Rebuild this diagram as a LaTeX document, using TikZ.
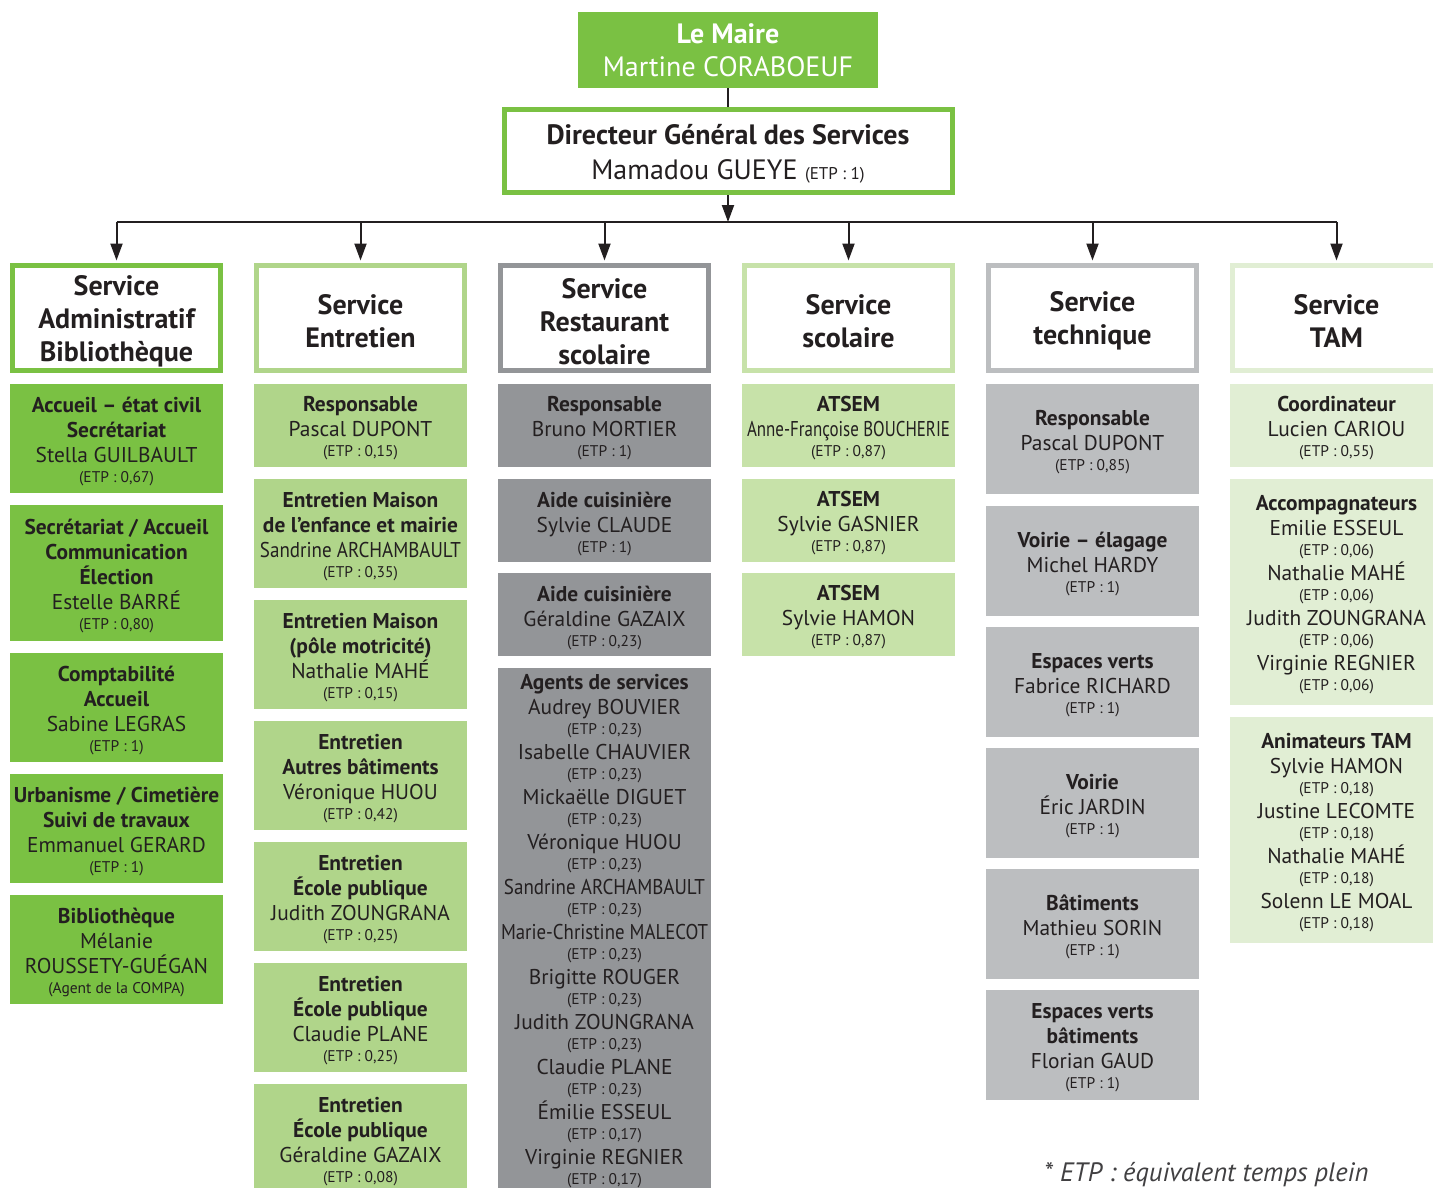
\documentclass[tikz,border=0pt]{standalone}
\usepackage{fontspec}
\setmainfont{PT Sans}
\usepackage{graphicx}
\usetikzlibrary{arrows.meta}
\definecolor{gA}{HTML}{7AC143}
\definecolor{gB}{HTML}{B0D58A}
\definecolor{gC}{HTML}{939598}
\definecolor{gD}{HTML}{C7E2A9}
\definecolor{gE}{HTML}{BCBEC0}
\definecolor{gF}{HTML}{E1EED4}
\definecolor{txt}{HTML}{231F20}
\definecolor{notec}{HTML}{414042}
\newcommand{\hb}[1]{{\bfseries #1}}
\newcommand{\etp}[1]{{\fontsize{15.5}{18}\selectfont(ETP : #1)}}
\newcommand{\sq}[2]{\resizebox{#1pt}{\height}{#2}}
% #1 text shift, #2 colour, #3 name, #4 x, #5 y, #6 height, #7 text
\newcommand{\cell}[7][3]{%
  \node[subbox=#2,minimum height=#6] (#3) at (#4,#5) {};
  \node[subtext] (#3t) at ([yshift=-#1pt]#3.center) {#7};}
\newcommand{\head}[5]{%
  \node[hdr=#1] (#2) at (#3,318) {};
  \node[hdrtext] (#2t) at ([yshift=-#4pt]#2.center) {#5};}
\begin{document}
\begin{tikzpicture}[x=1pt,y=-1pt,
  conn/.style={draw=txt,line width=2pt},
  arr/.style={conn,-{Triangle[length=17pt,width=12pt]},shorten >=2.5pt},
  maire/.style={fill=gA,text=white,minimum width=300,minimum height=76,inner sep=0,align=center,font=\fontsize{28}{33}\selectfont},
  dgs/.style={draw=gA,line width=5pt,fill=white,minimum width=448,minimum height=83,inner sep=0},
  dgstext/.style={text=txt,inner sep=0,align=center,font=\fontsize{28}{35}\selectfont},
  hdr/.style={draw=#1,line width=5pt,fill=white,minimum width=208,minimum height=105,inner sep=0},
  hdrtext/.style={text=txt,inner sep=0,align=center,font=\bfseries\fontsize{28}{33}\selectfont},
  subbox/.style={fill=#1,minimum width=213,inner sep=0},
  subtext/.style={text=txt,inner sep=0,align=center,font=\fontsize{21.4}{25}\selectfont}
]
\clip (0,0) rectangle (1433,1187);
\fill[white] (0,0) rectangle (1433,1187);

% top
\node[maire] (maire) at (728,50) {\hb{Le Maire}\\Martine CORABOEUF};
\node[dgs] (dgs) at (728,151) {};
\node[dgstext] (dgst) at ([yshift=-3pt]dgs.center) {\hb{Directeur Général des Services}\\Mamadou GUEYE {\fontsize{17}{18}\selectfont(ETP : 1)}};
\draw[conn] (maire) -- (dgs);

\coordinate (busL) at (116.5,222);
\coordinate (busR) at (1336.5,222);
\coordinate (busM) at (728,222);
\draw[conn] (busL) -- (busR);
\draw[conn,-{Triangle[length=17pt,width=12pt]}] (dgs.south) -- (busM);

% headers
\head{gA}{h1}{116.5}{3.5}{Service\\Administratif\\Bibliothèque}
\head{gB}{h2}{360.5}{3}{Service\\Entretien}
\head{gC}{h3}{604.5}{3.5}{Service\\Restaurant\\scolaire}
\head{gD}{h4}{848.5}{3}{Service\\scolaire}
\head{gE}{h5}{1092.5}{3}{Service\\technique}
\head{gF}{h6}{1336.5}{3}{Service\\TAM}
\foreach \h in {h1,h2,h3,h4,h5,h6}{\draw[arr] (\h |- busL) -- (\h.north);}

% column 1
\cell{gA}{a1}{116.5}{438.5}{109}{\hb{Accueil – état civil}\\\hb{Secrétariat}\\Stella GUILBAULT\\[-5pt]\etp{0,67}}
\cell{gA}{a2}{116.5}{573}{136}{\hb{Secrétariat / Accueil}\\\hb{Communication}\\\hb{Élection}\\Estelle BARRÉ\\[-5pt]\etp{0,80}}
\cell{gA}{a3}{116.5}{707.5}{109}{\hb{Comptabilité}\\\hb{Accueil}\\Sabine LEGRAS\\[-5pt]\etp{1}}
\cell{gA}{a4}{116.5}{828.5}{109}{\hb{Urbanisme / Cimetière}\\\hb{Suivi de travaux}\\Emmanuel GERARD\\[-5pt]\etp{1}}
\cell{gA}{a5}{116.5}{949.5}{109}{\hb{Bibliothèque}\\Mélanie\\ROUSSETY-GUÉGAN\\[-5pt]{\fontsize{15.5}{18}\selectfont(Agent de la COMPA)}}

% column 2
\cell{gB}{b1}{360.5}{425.5}{83}{\hb{Responsable}\\Pascal DUPONT\\[-5pt]\etp{0,15}}
\cell{gB}{b2}{360.5}{533.5}{109}{\hb{Entretien Maison}\\\hb{de l’enfance et mairie}\\\sq{201}{Sandrine ARCHAMBAULT}\\[-5pt]\etp{0,35}}
\cell{gB}{b3}{360.5}{654.5}{109}{\hb{Entretien Maison}\\\hb{(pôle motricité)}\\Nathalie MAHÉ\\[-5pt]\etp{0,15}}
\cell{gB}{b4}{360.5}{775.5}{109}{\hb{Entretien}\\\hb{Autres bâtiments}\\Véronique HUOU\\[-5pt]\etp{0,42}}
\cell{gB}{b5}{360.5}{896.5}{109}{\hb{Entretien}\\\hb{École publique}\\Judith ZOUNGRANA\\[-5pt]\etp{0,25}}
\cell{gB}{b6}{360.5}{1017.5}{109}{\hb{Entretien}\\\hb{École publique}\\Claudie PLANE\\[-5pt]\etp{0,25}}
\cell{gB}{b7}{360.5}{1138.5}{109}{\hb{Entretien}\\\hb{École publique}\\Géraldine GAZAIX\\[-5pt]\etp{0,08}}

% column 3
\cell{gC}{c1}{604.5}{425.5}{83}{\hb{Responsable}\\Bruno MORTIER\\[-5pt]\etp{1}}
\cell{gC}{c2}{604.5}{520.5}{83}{\hb{Aide cuisinière}\\Sylvie CLAUDE\\[-5pt]\etp{1}}
\cell{gC}{c3}{604.5}{614.5}{83}{\hb{Aide cuisinière}\\Géraldine GAZAIX\\[-5pt]\etp{0,23}}
\cell[1]{gC}{c4}{604.5}{930}{524}{\hb{Agents de services}\\
Audrey BOUVIER\\[-5pt]\etp{0,23}\\
Isabelle CHAUVIER\\[-5pt]\etp{0,23}\\
Mickaëlle DIGUET\\[-5pt]\etp{0,23}\\
Véronique HUOU\\[-5pt]\etp{0,23}\\
\sq{201}{Sandrine ARCHAMBAULT}\\[-5pt]\etp{0,23}\\
\sq{207}{Marie-Christine MALECOT}\\[-5pt]\etp{0,23}\\
Brigitte ROUGER\\[-5pt]\etp{0,23}\\
Judith ZOUNGRANA\\[-5pt]\etp{0,23}\\
Claudie PLANE\\[-5pt]\etp{0,23}\\
Émilie ESSEUL\\[-5pt]\etp{0,17}\\
Virginie REGNIER\\[-5pt]\etp{0,17}}

% column 4
\cell{gD}{d1}{848.5}{425.5}{83}{\hb{ATSEM}\\\sq{203}{Anne-Françoise BOUCHERIE}\\[-5pt]\etp{0,87}}
\cell{gD}{d2}{848.5}{520.5}{83}{\hb{ATSEM}\\Sylvie GASNIER\\[-5pt]\etp{0,87}}
\cell{gD}{d3}{848.5}{614.5}{83}{\hb{ATSEM}\\Sylvie HAMON\\[-5pt]\etp{0,87}}

% column 5
\cell{gE}{e1}{1092.5}{439}{110}{\hb{Responsable}\\Pascal DUPONT\\[-5pt]\etp{0,85}}
\cell{gE}{e2}{1092.5}{561}{110}{\hb{Voirie – élagage}\\Michel HARDY\\[-5pt]\etp{1}}
\cell{gE}{e3}{1092.5}{682}{110}{\hb{Espaces verts}\\Fabrice RICHARD\\[-5pt]\etp{1}}
\cell{gE}{e4}{1092.5}{803}{110}{\hb{Voirie}\\Éric JARDIN\\[-5pt]\etp{1}}
\cell{gE}{e5}{1092.5}{924}{110}{\hb{Bâtiments}\\Mathieu SORIN\\[-5pt]\etp{1}}
\cell{gE}{e6}{1092.5}{1045}{110}{\hb{Espaces verts}\\\hb{bâtiments}\\Florian GAUD\\[-5pt]\etp{1}}

% column 6
\cell{gF}{f1}{1336.5}{425.5}{83}{\hb{Coordinateur}\\Lucien CARIOU\\[-5pt]\etp{0,55}}
\cell{gF}{f2}{1336.5}{592}{226}{\hb{Accompagnateurs}\\
Emilie ESSEUL\\[-5pt]\etp{0,06}\\
Nathalie MAHÉ\\[-5pt]\etp{0,06}\\
Judith ZOUNGRANA\\[-5pt]\etp{0,06}\\
Virginie REGNIER\\[-5pt]\etp{0,06}}
\cell{gF}{f3}{1336.5}{830}{226}{\hb{Animateurs TAM}\\
Sylvie HAMON\\[-5pt]\etp{0,18}\\
Justine LECOMTE\\[-5pt]\etp{0,18}\\
Nathalie MAHÉ\\[-5pt]\etp{0,18}\\
Solenn LE MOAL\\[-5pt]\etp{0,18}}

% footnote
\node[anchor=west,inner sep=0,text=notec,font=\itshape\fontsize{26.6}{30}\selectfont] (note) at (1044,1175) {* ETP : équivalent temps plein};
\end{tikzpicture}
\end{document}
